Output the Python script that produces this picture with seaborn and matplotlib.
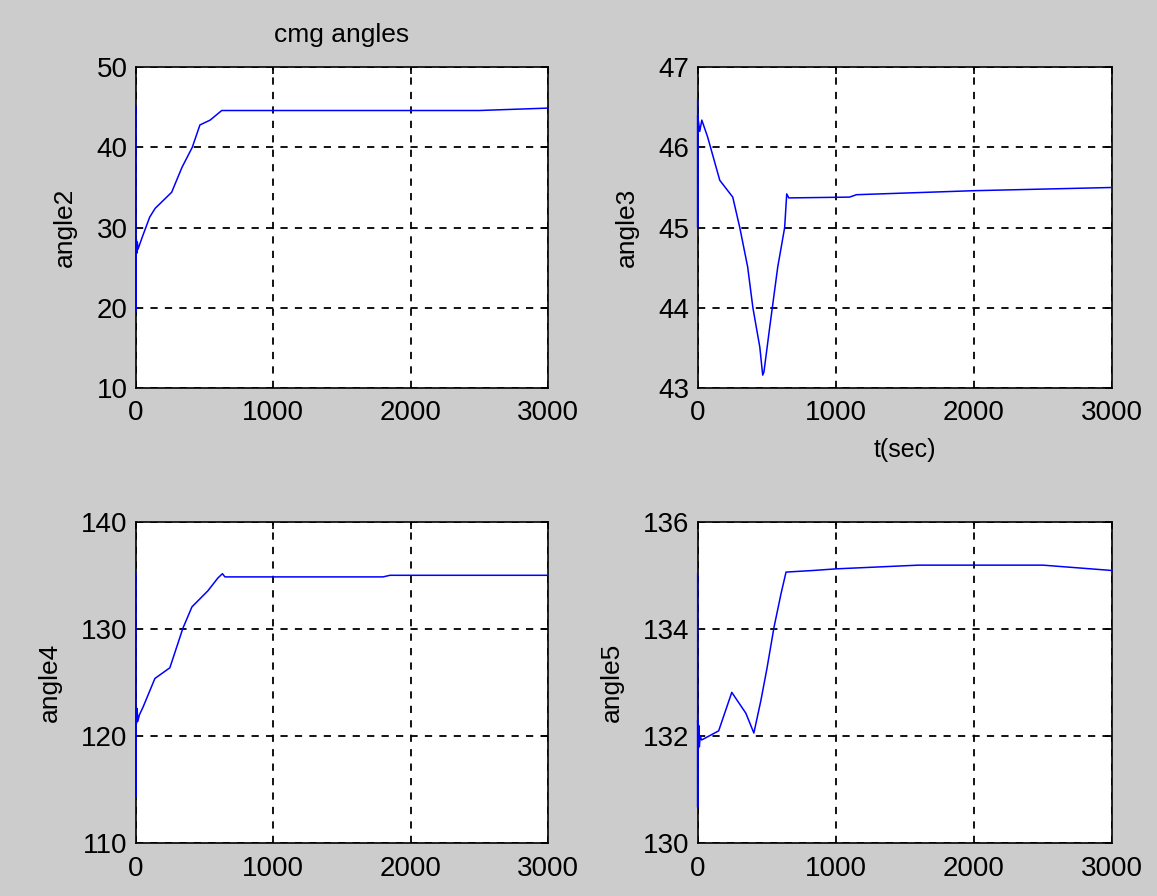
import matplotlib
matplotlib.use('Agg')
import matplotlib.pyplot as plt
import seaborn as sns

sns.set_theme(style="white")
plt.rcParams['font.family'] = ['Liberation Sans', 'DejaVu Sans']
plt.rcParams['text.color'] = 'black'
plt.rcParams['axes.labelcolor'] = 'black'

# datos (t en segundos)
t_a2 = [0, 0, 0, 3, 6, 10, 15, 25, 50, 100, 140, 260, 335, 410, 466, 540, 625, 2500, 3000]
a2 = [45.2, 19.5, 26.5, 28.5, 26.8, 28.2, 27.3, 27.8, 29.0, 31.3, 32.4, 34.4, 37.5, 40.0, 42.8, 43.4, 44.6, 44.6, 44.9]

t_a3 = [0, 0, 0, 15, 30, 72, 160, 254, 305, 362, 400, 450, 471, 480, 522, 580, 630, 645, 660, 1100, 1150, 2000, 3000]
a3 = [46.6, 45.0, 46.4, 46.2, 46.34, 46.13, 45.59, 45.38, 45.0, 44.51, 44.0, 43.51, 43.16, 43.2, 43.76, 44.51, 45.0, 45.42, 45.37, 45.38, 45.41, 45.46, 45.5]

t_a4 = [0, 0, 0, 4, 8, 14, 25, 51, 138, 247, 342, 408, 524, 597, 630, 648, 1800, 1850, 3000]
a4 = [135.3, 114.3, 122.4, 121.2, 122.6, 121.4, 122.0, 122.7, 125.4, 126.4, 130.1, 132.1, 133.6, 134.8, 135.2, 134.9, 134.9, 135.05, 135.05]

t_a5 = [0, 0, 0, 4, 8, 12, 18, 29, 152, 247, 349, 407, 458, 502, 553, 604, 640, 836, 1000, 1600, 2500, 3000]
a5 = [135.05, 130.67, 132.3, 131.7, 132.2, 131.8, 132.0, 131.93, 132.1, 132.82, 132.43, 132.06, 132.67, 133.27, 134.04, 134.67, 135.07, 135.1, 135.13, 135.2, 135.2, 135.1]

series = [
    (t_a2, a2, 'angle2', (10, 50), [10, 20, 30, 40, 50]),
    (t_a3, a3, 'angle3', (43, 47), [43, 44, 45, 46, 47]),
    (t_a4, a4, 'angle4', (110, 140), [110, 120, 130, 140]),
    (t_a5, a5, 'angle5', (130, 136), [130, 132, 134, 136]),
]

fig = plt.figure(figsize=(11.57, 8.96), dpi=100)
fig.patch.set_facecolor('#cccccc')

posiciones = [
    [0.1175, 0.567, 0.356, 0.358],
    [0.603, 0.567, 0.358, 0.358],
    [0.1175, 0.059, 0.356, 0.358],
    [0.603, 0.059, 0.358, 0.358],
]

axes = []
for pos, (t, y, nombre, ylim, yticks) in zip(posiciones, series):
    ax = fig.add_axes(pos)
    ax.set_facecolor('white')
    sns.lineplot(x=t, y=y, ax=ax, color='#0000ff', linewidth=1.1,
                 sort=False, estimator=None, zorder=3)
    # la linea vertical en t=0 debe verse encima del borde
    for ln in ax.lines:
        ln.set_clip_on(False)
    ax.set_xlim(0, 3000)
    ax.set_ylim(*ylim)
    ax.set_xticks([0, 1000, 2000, 3000])
    ax.set_yticks(yticks)
    ax.grid(True, color='black', linestyle=(0, (4, 4)), linewidth=1.3)
    ax.tick_params(direction='in', length=5, labelsize=20, colors='black',
                   top=True, right=True, pad=6)
    ax.tick_params(axis='x', pad=9)
    for s in ax.spines.values():
        s.set_color('black')
        s.set_linewidth(1.2)
        s.set_zorder(2.5)
    ax.set_ylabel(nombre, fontsize=19, labelpad=14)
    axes.append(ax)

axes[0].set_title('cmg angles', fontsize=19, pad=18)
axes[1].set_xlabel('t(sec)', fontsize=18, labelpad=8)

plt.savefig('out.png', dpi=100, facecolor=fig.get_facecolor())
plt.close()
